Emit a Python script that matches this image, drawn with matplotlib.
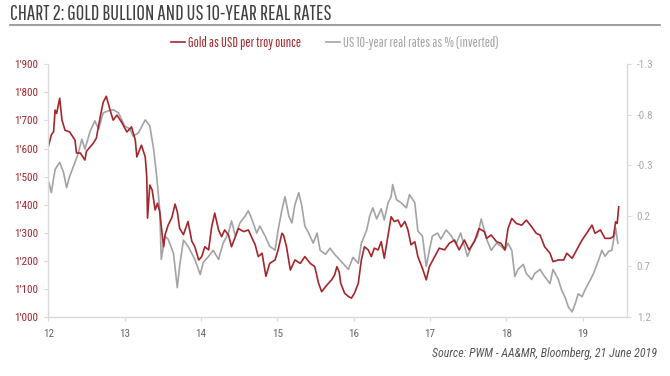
import matplotlib
matplotlib.use('Agg')
import matplotlib.pyplot as plt
from matplotlib.lines import Line2D

plt.rcParams['font.family'] = ['Pathway Gothic One', 'Roboto Condensed', 'Archivo Narrow', 'DejaVu Sans']
tick_font = ['Roboto Condensed', 'Archivo Narrow', 'DejaVu Sans']

# gold, USD per troy ounce (year fraction, value)
gold_t = [12.00, 12.04, 12.07, 12.09, 12.11, 12.15, 12.18, 12.22, 12.28, 12.35,
          12.37, 12.42, 12.48, 12.50, 12.59, 12.63, 12.68, 12.72, 12.76, 12.81,
          12.85, 12.90, 12.96, 13.03, 13.09, 13.14, 13.16, 13.22, 13.27, 13.29,
          13.30, 13.33, 13.36, 13.40, 13.43, 13.46, 13.51, 13.53, 13.57, 13.62,
          13.66, 13.69, 13.72, 13.77, 13.83, 13.88, 13.92, 13.97, 14.01, 14.05,
          14.10, 14.14, 14.18, 14.23, 14.27, 14.31, 14.36, 14.40, 14.45, 14.49,
          14.56, 14.62, 14.66, 14.71, 14.75, 14.80, 14.85, 14.90, 14.97, 15.01,
          15.06, 15.08, 15.12, 15.17, 15.23, 15.30, 15.36, 15.43, 15.49, 15.54,
          15.58, 15.65, 15.71, 15.75, 15.78, 15.81, 15.83, 15.88, 15.93, 15.97,
          16.01, 16.06, 16.10, 16.14, 16.19, 16.23, 16.27, 16.32, 16.36, 16.40,
          16.45, 16.49, 16.53, 16.58, 16.62, 16.67, 16.71, 16.75, 16.80, 16.84,
          16.90, 16.95, 16.99, 17.06, 17.12, 17.19, 17.25, 17.32, 17.38, 17.45,
          17.51, 17.58, 17.64, 17.71, 17.74, 17.80, 17.87, 17.93, 17.98, 18.02,
          18.07, 18.13, 18.20, 18.26, 18.33, 18.39, 18.44, 18.50, 18.57, 18.61,
          18.68, 18.75, 18.79, 18.86, 18.92, 18.99, 19.05, 19.12, 19.16, 19.23,
          19.29, 19.36, 19.40, 19.43, 19.45, 19.47]
gold = [1606, 1648, 1660, 1737, 1725, 1779, 1701, 1665, 1659, 1630,
        1584, 1584, 1559, 1590, 1619, 1637, 1712, 1765, 1786, 1737,
        1701, 1719, 1694, 1659, 1677, 1630, 1570, 1612, 1570, 1499,
        1352, 1470, 1453, 1381, 1405, 1375, 1250, 1293, 1327, 1355,
        1402, 1375, 1316, 1293, 1340, 1270, 1250, 1203, 1215, 1250,
        1239, 1321, 1370, 1310, 1286, 1310, 1292, 1250, 1286, 1315,
        1304, 1310, 1286, 1257, 1215, 1227, 1145, 1191, 1203, 1239,
        1298, 1292, 1250, 1167, 1203, 1191, 1215, 1191, 1179, 1120,
        1090, 1114, 1132, 1150, 1179, 1160, 1120, 1085, 1073, 1067,
        1085, 1120, 1203, 1250, 1239, 1215, 1245, 1239, 1268, 1209,
        1292, 1357, 1340, 1345, 1321, 1340, 1310, 1257, 1268, 1215,
        1173, 1132, 1179, 1215, 1245, 1239, 1262, 1274, 1239, 1274,
        1239, 1268, 1315, 1304, 1280, 1292, 1268, 1262, 1239, 1315,
        1351, 1333, 1327, 1345, 1321, 1298, 1292, 1250, 1227, 1197,
        1203, 1203, 1227, 1209, 1239, 1274, 1298, 1327, 1298, 1310,
        1280, 1280, 1286, 1339, 1333, 1392]

# US 10-year real rate, % (plotted inverted)
rate_t = [12.01, 12.04, 12.09, 12.15, 12.20, 12.24, 12.28, 12.35, 12.39, 12.44,
          12.48, 12.55, 12.61, 12.66, 12.72, 12.79, 12.85, 12.92, 13.00, 13.07,
          13.11, 13.18, 13.27, 13.33, 13.38, 13.42, 13.46, 13.48, 13.53, 13.57,
          13.64, 13.69, 13.72, 13.77, 13.83, 13.92, 13.99, 14.03, 14.10, 14.16,
          14.23, 14.29, 14.36, 14.40, 14.45, 14.51, 14.58, 14.62, 14.66, 14.73,
          14.77, 14.84, 14.90, 14.97, 15.01, 15.06, 15.10, 15.15, 15.19, 15.23,
          15.28, 15.32, 15.36, 15.41, 15.47, 15.52, 15.56, 15.63, 15.69, 15.75,
          15.86, 15.93, 15.99, 16.06, 16.10, 16.17, 16.21, 16.25, 16.30, 16.36,
          16.40, 16.45, 16.49, 16.51, 16.56, 16.62, 16.69, 16.73, 16.80, 16.84,
          16.90, 16.95, 16.99, 17.03, 17.10, 17.14, 17.21, 17.27, 17.34, 17.40,
          17.49, 17.56, 17.62, 17.67, 17.71, 17.74, 17.80, 17.87, 17.93, 17.98,
          18.02, 18.07, 18.11, 18.15, 18.22, 18.26, 18.33, 18.37, 18.44, 18.50,
          18.57, 18.61, 18.68, 18.72, 18.77, 18.81, 18.86, 18.90, 18.94, 18.99,
          19.03, 19.10, 19.14, 19.21, 19.25, 19.29, 19.34, 19.38, 19.43, 19.45,
          19.46]
rate = [-0.13, -0.03, -0.26, -0.33, -0.23, -0.08, -0.19, -0.33, -0.41, -0.56,
        -0.46, -0.64, -0.74, -0.66, -0.82, -0.84, -0.85, -0.82, -0.69, -0.66,
        -0.59, -0.62, -0.75, -0.69, -0.46, -0.19, 0.14, 0.63, 0.40, 0.43,
        0.57, 0.91, 0.70, 0.44, 0.50, 0.63, 0.78, 0.66, 0.60, 0.54,
        0.63, 0.47, 0.37, 0.25, 0.40, 0.27, 0.20, 0.15, 0.22, 0.37,
        0.30, 0.40, 0.50, 0.54, 0.34, 0.14, 0.01, 0.20, 0.27, 0.09,
        -0.03, 0.10, 0.30, 0.37, 0.47, 0.37, 0.54, 0.58, 0.52, 0.58,
        0.67, 0.73, 0.61, 0.67, 0.47, 0.34, 0.20, 0.12, 0.23, 0.13,
        0.24, 0.07, 0.01, -0.11, 0.04, 0.07, 0.12, -0.01, 0.07, 0.35,
        0.40, 0.70, 0.54, 0.40, 0.37, 0.43, 0.34, 0.39, 0.48, 0.37,
        0.60, 0.47, 0.40, 0.23, 0.34, 0.43, 0.54, 0.47, 0.50, 0.54,
        0.47, 0.54, 0.80, 0.73, 0.68, 0.77, 0.83, 0.77, 0.73, 0.80,
        0.87, 0.73, 0.83, 0.93, 1.01, 1.10, 1.15, 1.07, 0.97, 1.00,
        0.93, 0.83, 0.77, 0.63, 0.54, 0.60, 0.55, 0.54, 0.32, 0.43,
        0.47]

year_ticks = [12, 13, 14, 15, 16, 17, 18, 19]
gold_ticks = [1000, 1100, 1200, 1300, 1400, 1500, 1600, 1700, 1800, 1900]
rate_ticks = [-1.3, -0.8, -0.3, 0.2, 0.7, 1.2]

red = '#a3262c'
grey = '#a3a3a3'
spine = '#d9d9d9'

fig = plt.figure(figsize=(6.7, 3.76), dpi=100)
ax = fig.add_axes([0.072, 0.157, 0.864, 0.672])
ax2 = ax.twinx()

ax2.plot(rate_t, rate, color=grey, lw=1.2)
ax.plot(gold_t, gold, color=red, lw=1.2)
ax.set_zorder(ax2.get_zorder() + 1)
ax.patch.set_visible(False)

ax.set_xlim(12, 19.58)
ax.set_ylim(1000, 1900)
ax2.set_ylim(1.2, -1.3)

ax.set_xticks(year_ticks)
ax.set_xticklabels([str(y) for y in year_ticks], family=tick_font)
ax.set_yticks(gold_ticks)
ax.set_yticklabels(["%d'%03d" % (v // 1000, v % 1000) for v in gold_ticks], family=tick_font)
ax2.set_yticks(rate_ticks)
ax2.set_yticklabels(['%.1f' % v for v in rate_ticks], family=tick_font)

for a in (ax, ax2):
    a.spines['top'].set_visible(False)
    for s in ('left', 'right', 'bottom'):
        a.spines[s].set_color(spine)
        a.spines[s].set_linewidth(1.0)
ax.spines['right'].set_visible(False)
ax2.spines['left'].set_visible(False)
ax2.spines['bottom'].set_visible(False)

ax.tick_params(axis='y', length=3, width=0.8, color=spine, labelcolor=red,
               labelsize=8, pad=4)
ax.tick_params(axis='x', length=3, width=0.8, color=spine, labelcolor='#666666',
               labelsize=8, pad=6)
ax2.tick_params(axis='y', length=3, width=0.8, color=spine, labelcolor='#aaaaaa',
                labelsize=8, pad=4)

# title + rule
fig.text(10 / 670, 1 - 13.5 / 376, 'CHART 2: GOLD BULLION AND US 10-YEAR REAL RATES',
         fontsize=15, color='#404040', va='center', ha='left')
fig.add_artist(Line2D([10 / 670, 660 / 670], [1 - 24.5 / 376, 1 - 24.5 / 376],
                      transform=fig.transFigure, color='#8c8c8c', lw=1.2))

# legend
handles = [Line2D([], [], color=red, lw=1.2), Line2D([], [], color=grey, lw=1.2)]
labels = ['Gold as USD per troy ounce', 'US 10-year real rates as % (inverted)']
fig.legend(handles, labels, loc='center', bbox_to_anchor=(0.5, 1 - 43 / 376),
           ncol=2, frameon=False, fontsize=10, handlelength=1.0,
           handletextpad=0.2, columnspacing=1.8, labelcolor=[red, grey])

fig.text(657 / 670, 1 - 353 / 376, 'Source: PWM - AA&MR, Bloomberg, 21 June 2019',
         fontsize=8.6, style='italic', color='#555555', ha='right', va='center',
         family=tick_font)

fig.savefig('out.png', dpi=100)
